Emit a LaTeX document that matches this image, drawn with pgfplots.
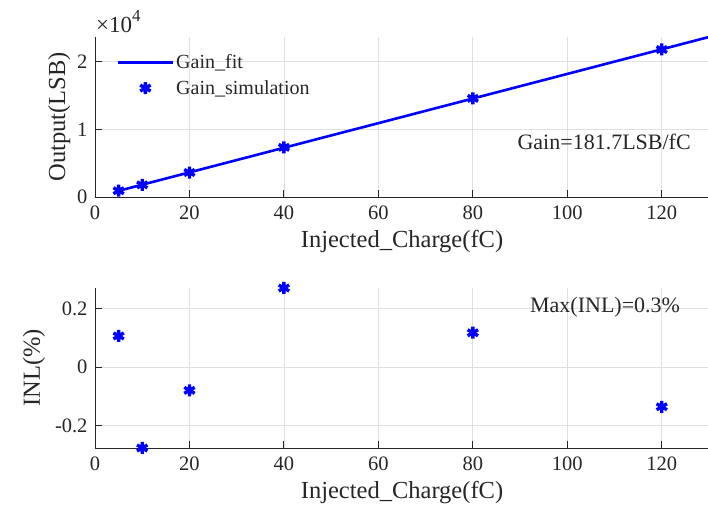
\documentclass[border=0pt]{standalone}
\usepackage{fontspec}
\setmainfont{Liberation Serif}
\usepackage{pgfplots}
\pgfplotsset{compat=1.18}
\definecolor{axc}{RGB}{38,38,38}
\definecolor{gridc}{RGB}{224,224,224}
\definecolor{mblue}{RGB}{0,0,255}
\pgfplotstableread{
x y
5 925
10 1790
20 3615
40 7330
80 14560
120 21775
}\gainsim
\pgfplotstableread{
x y
5 908.5
130 23621
}\gainfit
\pgfplotstableread{
x y
5 0.106
10 -0.277
20 -0.080
40 0.270
80 0.117
120 -0.136
}\inl
\begin{document}
\begin{tikzpicture}[x=1pt,y=1pt]
\useasboundingbox (0,0) rectangle (708,513);
\pgfplotsset{
  common/.style={
    scale only axis, width=614pt, height=160pt,
    axis lines*=left,
    xmin=0, xmax=130, xtick={0,20,...,120},
    tick align=inside, major tick length=7pt,
    grid=major, grid style={gridc, line width=0.8pt},
    axis line style={axc, line width=0.9pt},
    every tick/.style={axc, line width=0.9pt},
    tick label style={font=\fontsize{20.5}{24}\selectfont, text=axc},
    xticklabel style={yshift=-5pt},
    yticklabel style={xshift=-4pt},
    label style={font=\fontsize{24.5}{28}\selectfont, text=axc},
    xlabel style={yshift=-4pt},
    /pgf/number format/assume math mode=true,
    xlabel={Injected\_Charge(fC)},
    mark size=6pt,
  }
}
\begin{axis}[common, name=top, at={(95pt,316pt)}, anchor=south west,
  ymin=0, ymax=23621, ytick={0,10000,20000}, yticklabels={0,1,2},
  scaled y ticks=false,
  ylabel={Output(LSB)},
  legend style={draw=none, fill=none, at={(rel axis cs:0.03,0.915)}, anchor=north west,
    font=\fontsize{20}{24}\selectfont, text=axc, row sep=6pt},
  legend cell align=left,
  legend image code/.code={\draw[mark repeat=2,mark phase=2,#1] plot coordinates {(0pt,0pt) (27.5pt,0pt) (55pt,0pt)};},
]
\addplot[mblue, line width=2.6pt] table[x=x,y=y] {\gainfit};
\addlegendentry{Gain\_fit}
\addplot[mblue, only marks, mark=asterisk, mark options={line width=3.4pt}] table[x=x,y=y] {\gainsim};
\addlegendentry{Gain\_simulation}
\node[font=\fontsize{22}{26}\selectfont, text=axc] at (axis cs:107.8,8150) {Gain=181.7LSB/fC};
\end{axis}
\node[anchor=south west, inner sep=0pt, xshift=1pt, yshift=4pt, font=\fontsize{23}{26}\selectfont, text=axc] at (top.north west) {×10\raisebox{0.5em}{\fontsize{17}{19}\selectfont 4}};
\begin{axis}[common, at={(95pt,65pt)}, anchor=south west,
  ymin=-0.277, ymax=0.270, ytick={-0.2,0,0.2},
  yticklabels={-0.2,0,0.2},
  ylabel={INL(\%)},
  ylabel style={xshift=0pt, yshift=3pt},
]
\addplot[mblue, only marks, mark=asterisk, mark options={line width=3.4pt}] table[x=x,y=y] {\inl};
\node[font=\fontsize{22}{26}\selectfont, text=axc] at (axis cs:108,0.206) {Max(INL)=0.3\%};
\end{axis}
\end{tikzpicture}
\end{document}
